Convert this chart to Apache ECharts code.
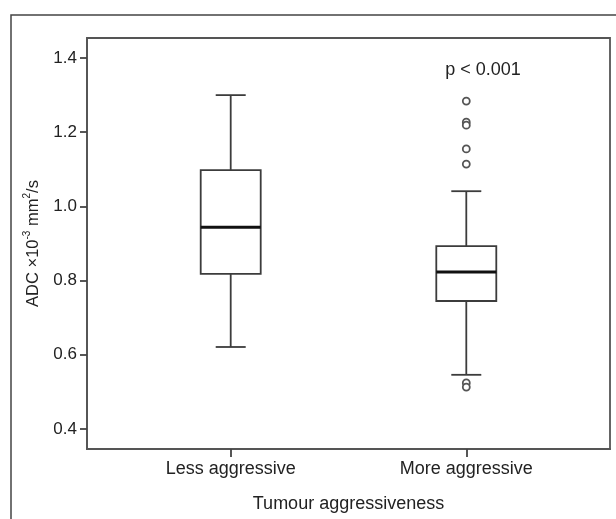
<!DOCTYPE html>
<html>
<head>
<meta charset="utf-8">
<script src="https://cdn.jsdelivr.net/npm/echarts@6/dist/echarts.min.js"></script>
<style>
  html, body { margin: 0; padding: 0; background: #fff; }
  #chart { width: 616px; height: 519px; }
</style>
</head>
<body>
<div id="chart"></div>
<script>
// groups on the x axis (positions 0 and 1)
const categories = ['Less aggressive', 'More aggressive'];
// [min whisker, Q1, median, Q3, max whisker]
const boxStats = [
  [0.621, 0.818, 0.944, 1.098, 1.300],
  [0.546, 0.745, 0.823, 0.893, 1.041]
];
// outliers: [group index, value]
const outliers = [
  [1, 1.284], [1, 1.227], [1, 1.219], [1, 1.155], [1, 1.114],
  [1, 0.524], [1, 0.513]
];
const yTicks = [0.4, 0.6, 0.8, 1.0, 1.2, 1.4];

const chart = echarts.init(document.getElementById('chart'));
const lineColor = '#3c3c3c';
const font = 'Liberation Sans, Arial, sans-serif';

function renderBox(params, api) {
  const x = api.value(0);
  const lo = api.coord([x, api.value(1)]);
  const q1 = api.coord([x, api.value(2)]);
  const med = api.coord([x, api.value(3)]);
  const q3 = api.coord([x, api.value(4)]);
  const hi = api.coord([x, api.value(5)]);
  const cx = q1[0];
  const half = 30, cap = 15;
  const st = { stroke: lineColor, lineWidth: 1.8, fill: 'none' };
  return {
    type: 'group',
    children: [
      { type: 'line', shape: { x1: cx, y1: q3[1], x2: cx, y2: hi[1] }, style: st },
      { type: 'line', shape: { x1: cx, y1: q1[1], x2: cx, y2: lo[1] }, style: st },
      { type: 'line', shape: { x1: cx - cap, y1: hi[1], x2: cx + cap, y2: hi[1] }, style: st },
      { type: 'line', shape: { x1: cx - cap, y1: lo[1], x2: cx + cap, y2: lo[1] }, style: st },
      { type: 'rect', shape: { x: cx - half, y: q3[1], width: half * 2, height: q1[1] - q3[1] },
        style: { stroke: lineColor, lineWidth: 1.8, fill: '#fff' } },
      { type: 'line', shape: { x1: cx - half, y1: med[1], x2: cx + half, y2: med[1] },
        style: { stroke: '#111', lineWidth: 3 } }
    ]
  };
}

chart.setOption({
  animation: false,
  backgroundColor: '#fff',
  graphic: [
    { type: 'rect', shape: { x: 11, y: 15, width: 700, height: 600 },
      style: { fill: 'none', stroke: '#444', lineWidth: 1.5 }, z: 0 },
    { type: 'text', x: 483, y: 70,
      style: { text: 'p < 0.001', fontSize: 18, fontFamily: font, fill: '#222',
               align: 'center', verticalAlign: 'middle' } }
  ],
  grid: {
    left: 87, top: 38, right: 6, bottom: 70,
    show: true, borderColor: '#555', borderWidth: 1.8, backgroundColor: 'transparent'
  },
  xAxis: {
    type: 'value',
    min: -0.61, max: 1.61,
    splitLine: { show: false },
    axisLine: { show: true, onZero: false, lineStyle: { color: '#555', width: 1.8 } },
    axisTick: { show: true, length: 8, customValues: [0, 1], lineStyle: { color: '#444', width: 1.8 } },
    axisLabel: {
      customValues: [0, 1], margin: 11,
      formatter: v => categories[Math.round(v)] || '',
      fontSize: 18, fontFamily: font, color: '#222'
    },
    name: 'Tumour aggressiveness',
    nameLocation: 'middle', nameGap: 46,
    nameTextStyle: { fontSize: 18, fontFamily: font, color: '#222' }
  },
  yAxis: {
    type: 'value',
    min: 0.346, max: 1.454,
    splitLine: { show: false },
    axisLine: { show: true, onZero: false, lineStyle: { color: '#555', width: 1.8 } },
    axisTick: { show: true, length: 7, customValues: yTicks, lineStyle: { color: '#444', width: 1.8 } },
    axisLabel: {
      customValues: yTicks, margin: 10,
      formatter: v => v.toFixed(1),
      fontSize: 17, fontFamily: font, color: '#222'
    },
    name: '{a|ADC ×10}{s|-3}{a| mm}{s|2}{a|/s}',
    nameLocation: 'middle', nameGap: 45,
    nameTextStyle: {
      fontFamily: font, color: '#222',
      rich: {
        a: { fontSize: 16.5, fontFamily: font, color: '#222', lineHeight: 20, verticalAlign: 'bottom' },
        s: { fontSize: 10, fontFamily: font, color: '#222', lineHeight: 20, verticalAlign: 'top' }
      }
    }
  },
  series: [
    {
      type: 'custom',
      renderItem: renderBox,
      data: boxStats.map((s, i) => [i].concat(s)),
      encode: { x: 0, y: [1, 2, 3, 4, 5] },
      z: 3
    },
    {
      type: 'scatter',
      data: outliers,
      symbol: 'circle',
      symbolSize: 7,
      itemStyle: { color: '#fff', borderColor: '#555', borderWidth: 1.8, opacity: 1 },
      z: 4
    }
  ]
});
</script>
</body>
</html>
